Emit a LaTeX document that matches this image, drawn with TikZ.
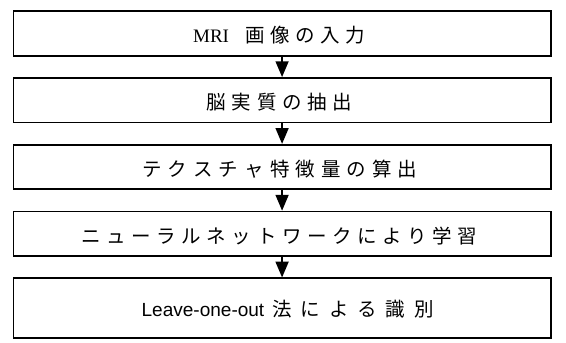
\documentclass[tikz,border=0pt]{standalone}
\usepackage{fontspec}
\setmainfont{Liberation Serif}
\newfontfamily\jpfont{Noto Sans CJK JP}
\newfontfamily\arialfont{Liberation Sans}
\usetikzlibrary{arrows.meta}
\newcommand\spacedtext[2]{\def\spgap{#1}\spfirst#2\relax}
\def\spfirst#1{#1\sploop}
\def\sploop#1{\ifx#1\relax\else\hspace{\spgap}#1\expandafter\sploop\fi}
\tikzset{
  box/.style={draw, line width=1.9pt, minimum width=579pt, minimum height=48pt, inner sep=0pt},
  flow/.style={line width=1.6pt, -{Triangle[width=14pt,length=17pt]}},
  lbl/.style={inner sep=0pt, font=\fontsize{21pt}{24pt}\selectfont}
}
\begin{document}
\begin{tikzpicture}[x=1pt,y=-1pt]
\useasboundingbox (0,0) rectangle (610,368.6);
\node[box] (b1) at (304,36) {};
\node[box] (b2) at (304,108) {};
\node[box] (b3) at (304,180) {};
\node[box] (b4) at (304,252) {};
\node[box, minimum height=64pt] (b5) at (304,332) {};
\node[lbl] (t1) at (301,38) {{\fontsize{20.5pt}{22pt}\selectfont MRI}\hspace{18pt}{\jpfont\spacedtext{6pt}{画像の入力}}};
\node[lbl] (t2) at (301,38+72) {\jpfont\spacedtext{6pt}{脳実質の抽出}};
\node[lbl] (t3) at (301.5,38+144) {\jpfont\spacedtext{6.5pt}{テクスチャ特徴量の算出}};
\node[lbl] (t4) at (301,38+216) {\jpfont\spacedtext{6pt}{ニューラルネットワークにより学習}};
\node[lbl] (t5) at (310,333) {{\arialfont\fontsize{20.5pt}{22pt}\selectfont Leave-one-out}\hspace{9pt}{\jpfont\spacedtext{9.5pt}{法による識別}}};
\draw[flow] (b1.south) -- (b2.north);
\draw[flow] (b2.south) -- (b3.north);
\draw[flow] (b3.south) -- (b4.north);
\draw[flow] (b4.south) -- (b5.north);
\end{tikzpicture}
\end{document}
